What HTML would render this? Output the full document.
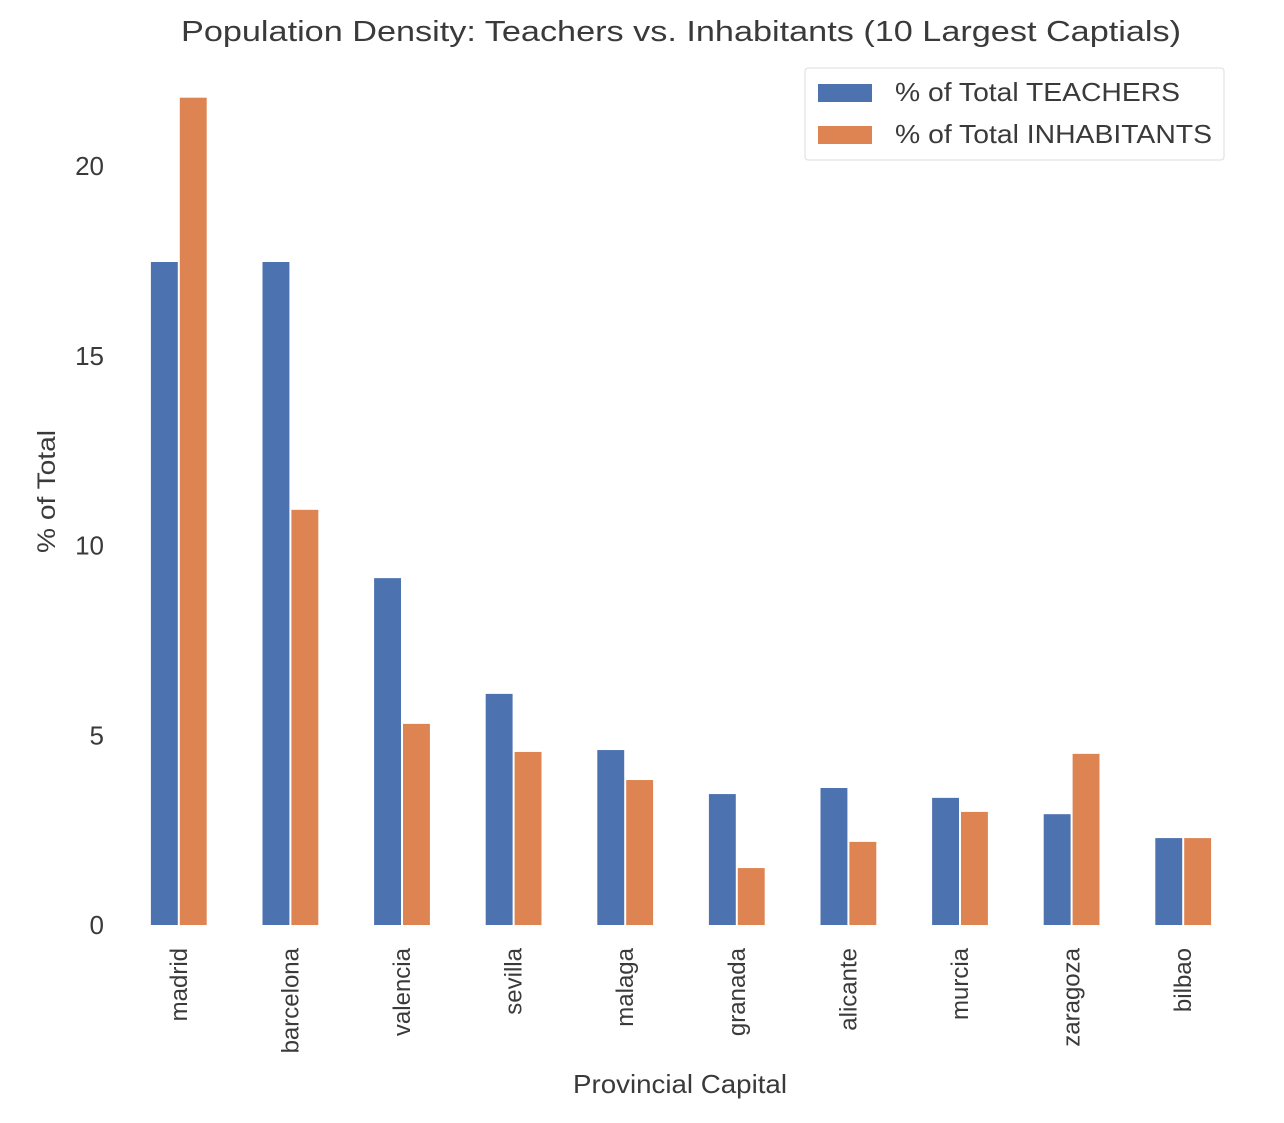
<!DOCTYPE html>
<html><head><meta charset="utf-8"><style>
body{margin:0;background:#fff;}
svg text{font-family:"Liberation Sans",Arial,sans-serif;fill:#3a3a3a;}
</style></head><body>
<svg id="chart" width="1284" height="1118" xmlns="http://www.w3.org/2000/svg">
<text x="181" y="41" font-size="29" textLength="1000" lengthAdjust="spacingAndGlyphs">Population Density: Teachers vs. Inhabitants (10 Largest Captials)</text>
<g id="bars"></g>
<g id="yticks"></g>
<g id="xticks"></g>
<text transform="translate(55,553) rotate(-90)" font-size="25" textLength="123" lengthAdjust="spacingAndGlyphs">% of Total</text>
<text x="573" y="1093" font-size="26" textLength="214" lengthAdjust="spacingAndGlyphs">Provincial Capital</text>
<g>
<rect x="805" y="68" width="419" height="92" fill="#fff" stroke="#ddd" rx="3"/>
<rect x="818" y="84" width="54" height="18" fill="#4c72b0"/>
<text x="895" y="101" font-size="26" textLength="285" lengthAdjust="spacingAndGlyphs">% of Total TEACHERS</text>
<rect x="818" y="126" width="54" height="18" fill="#dd8452"/>
<text x="895" y="143" font-size="26" textLength="317" lengthAdjust="spacingAndGlyphs">% of Total INHABITANTS</text>
</g>
</svg>
<script>
const categories=["madrid","barcelona","valencia","sevilla","malaga","granada","alicante","murcia","zaragoza","bilbao"];
const teachers=[17.47,17.47,9.14,6.09,4.61,3.45,3.61,3.35,2.92,2.29];
const inhabitants=[21.8,10.94,5.30,4.56,3.82,1.50,2.19,2.98,4.51,2.29];
const yTicks=[0,5,10,15,20];
const NS="http://www.w3.org/2000/svg";
const x0=123,x1=1239,y0=925,unit=37.95;
const step=(x1-x0)/categories.length;
const xc=i=>x0+step*(i+0.5);
const y=v=>y0-v*unit;
const bw=step*0.25;
function mk(tag,attrs,parent){const e=document.createElementNS(NS,tag);for(const k in attrs)e.setAttribute(k,attrs[k]);parent.appendChild(e);return e;}
const bars=document.getElementById('bars');
categories.forEach((c,i)=>{
  const b1=mk('rect',{x:xc(i)-bw,y:y(teachers[i]),width:bw-1,height:y0-y(teachers[i]),fill:'#4c72b0'},bars);
  
  
  const b2=mk('rect',{x:xc(i)+1,y:y(inhabitants[i]),width:bw-1,height:y0-y(inhabitants[i]),fill:'#dd8452'},bars);
  
  
  const t=mk('text',{transform:`translate(${xc(i)+8},948) rotate(-90)`,'font-size':24,'text-anchor':'end'},document.getElementById('xticks'));
  t.textContent=c;
  
  
});
yTicks.forEach(v=>{
  const t=mk('text',{x:104,y:y(v)+9,'font-size':26,'text-anchor':'end'},document.getElementById('yticks'));
  t.textContent=v;
  
  
});
</script>
</body></html>
